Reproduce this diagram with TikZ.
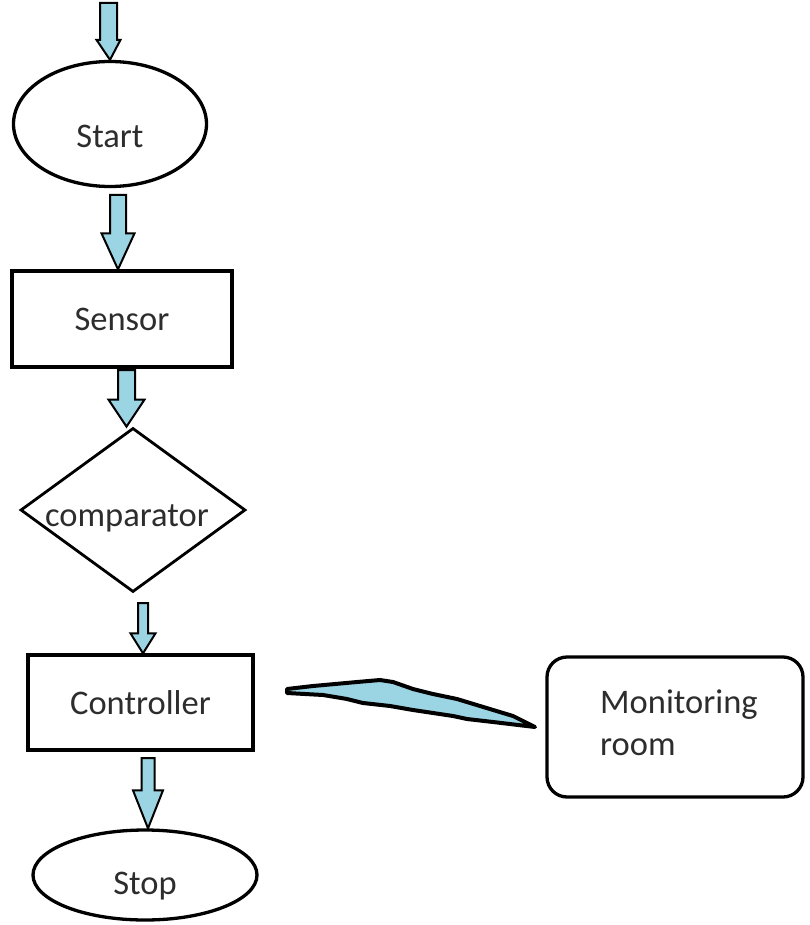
\documentclass[tikz,border=0pt]{standalone}
\usepackage{fontspec}
\setmainfont{Carlito}
\usetikzlibrary{shapes.geometric,calc}
\definecolor{arrowblue}{RGB}{155,212,226}
\definecolor{txt}{RGB}{45,45,45}
\tikzset{
  barrow/.style={draw=black, fill=arrowblue, line width=2pt, line join=miter},
  lbl/.style={font=\fontsize{34.5}{41}\selectfont, text=txt, inner sep=0pt},
  boxnode/.style={rectangle, draw=black, line width=3.3pt, inner sep=0pt, font=\fontsize{34.5}{41}\selectfont, text=txt},
  ovalnode/.style={ellipse, draw=black, line width=3.3pt, inner sep=0pt},
  bolt/.style={draw=black, fill=arrowblue, line width=4pt, line join=round}
}
\newcommand\blockarr[5]{%
  \draw[barrow] let \p1=(#1), \p2=(#2) in
   (\x1-#3pt,\y1) -- (\x1+#3pt,\y1) -- (\x1+#3pt,\y2+#5pt) -- (\x1+#4pt,\y2+#5pt)
   -- (\x2,\y2) -- (\x1-#4pt,\y2+#5pt) -- (\x1-#3pt,\y2+#5pt) -- cycle;}
\begin{document}
\begin{tikzpicture}[x=1pt,y=-1pt]
\useasboundingbox (0,0) rectangle (810,925);
% nodes
\node[ovalnode, minimum width=193pt, minimum height=125pt] (start) at (110,124) {};
\node[lbl] (starttxt) at (110,136) {Start};
\node[boxnode, minimum width=220pt, minimum height=96pt] (sensor) at (122,319) {Sensor};
\node[diamond, draw=black, line width=2.8pt, inner sep=0pt, minimum width=225pt, minimum height=164pt] (comp) at (133,510) {};
\node[lbl] (comptxt) at (127,518) {comparator};
\node[boxnode, minimum width=225pt, minimum height=95pt] (ctrl) at (140.5,702.5) {Controller};
\node[ovalnode, minimum width=224pt, minimum height=90pt] (stop) at (145,875) {};
\node[lbl] (stoptxt) at (145,886) {Stop};
\node[rectangle, rounded corners=20pt, draw=black, line width=3.3pt, minimum width=256pt, minimum height=140pt] (mon) at (675,727) {};
\node[lbl, anchor=base west] (montxta) at (600,713) {Monitoring};
\node[lbl, anchor=base west] (montxtb) at (600,755) {room};
% block arrows
\coordinate (a1s) at (108.5,3);
\coordinate (a2s) at (118,195);
\coordinate (a3s) at (126.5,370);
\coordinate (a4s) at (143,603);
\coordinate (a5s) at (148,758);
\blockarr{a1s}{start.north}{8.5}{12}{20}
\blockarr{a2s}{a2s |- sensor.north}{8}{16.5}{36}
\blockarr{a3s}{a3s |- comp.north}{8.5}{18}{27}
\blockarr{a4s}{a4s |- ctrl.north}{5}{12.5}{20}
\blockarr{a5s}{a5s |- stop.north}{6.5}{15}{38}
% lightning link
\draw[bolt] (287,689) -- (313,686) -- (357,682) -- (380,680) -- (393,682) -- (413,689)
  -- (433,694) -- (457,699) -- (480,706) -- (513,716) -- (535,727)
  -- (493,722) -- (467,719) -- (453,716) -- (433,713) -- (413,710) -- (390,706)
  -- (363,703) -- (347,699) -- (323,695) -- (287,693) -- cycle;
\end{tikzpicture}
\end{document}
